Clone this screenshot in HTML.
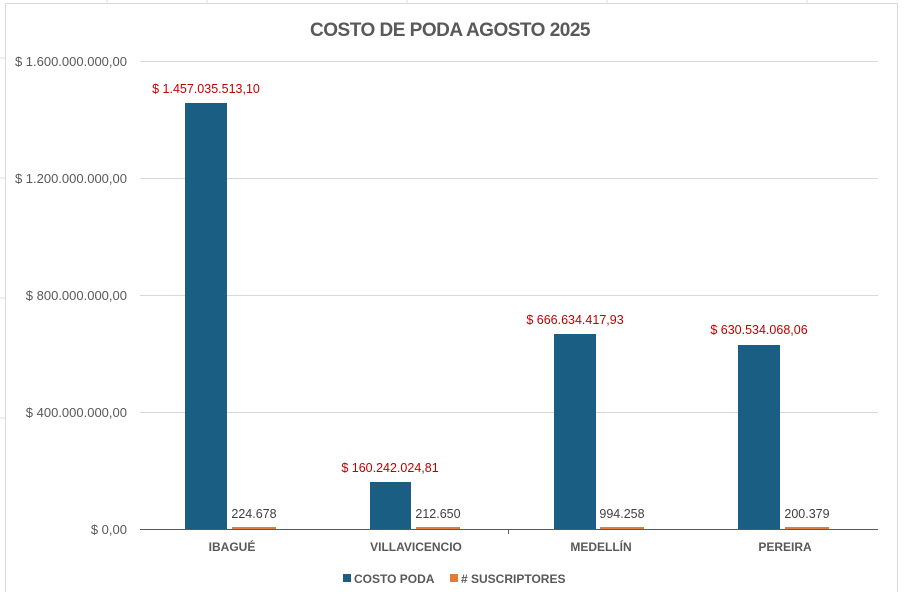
<!DOCTYPE html>
<html><head><meta charset="utf-8"><style>
body{margin:0;width:906px;height:592px;background:#fff;overflow:hidden;font-family:"Liberation Sans",sans-serif}
</style></head><body>
<svg width="906" height="592" xmlns="http://www.w3.org/2000/svg" font-family="Liberation Sans, sans-serif">
<rect x="0" y="0" width="906" height="592" fill="#fff"/>
<g stroke="#e2e2e2" stroke-width="1">
<line x1="107" y1="0" x2="107" y2="4"/><line x1="207" y1="0" x2="207" y2="4"/><line x1="407" y1="0" x2="407" y2="4"/><line x1="607" y1="0" x2="607" y2="4"/><line x1="807" y1="0" x2="807" y2="4"/>
<line x1="0" y1="58" x2="5" y2="58"/><line x1="0" y1="178" x2="5" y2="178"/><line x1="0" y1="298" x2="5" y2="298"/><line x1="0" y1="418" x2="5" y2="418"/>
</g>
<rect x="5.5" y="3.5" width="892" height="600" fill="#fff" stroke="#d9d9d9"/>
<text x="450" y="36" text-anchor="middle" font-size="19" font-weight="bold" fill="#595959" letter-spacing="-0.5">COSTO DE PODA AGOSTO 2025</text>
<g stroke="#d9d9d9" stroke-width="1">
<line x1="140" y1="61.5" x2="878" y2="61.5"/><line x1="140" y1="178.5" x2="878" y2="178.5"/><line x1="140" y1="295.5" x2="878" y2="295.5"/><line x1="140" y1="412.5" x2="878" y2="412.5"/>
</g>
<g font-size="13" fill="#595959" text-anchor="end">
<text x="127" y="66">$ 1.600.000.000,00</text><text x="127" y="183">$ 1.200.000.000,00</text><text x="127" y="300">$ 800.000.000,00</text><text x="127" y="417">$ 400.000.000,00</text><text x="127" y="534">$ 0,00</text>
</g>
<g fill="#1a5e83">
<rect x="185" y="103" width="42" height="426"/><rect x="370" y="482" width="41" height="47"/><rect x="554" y="334" width="42" height="195"/><rect x="738" y="345" width="42" height="184"/>
</g>
<g fill="#e07b39">
<rect x="232" y="527" width="44" height="2"/><rect x="416" y="527" width="44" height="2"/><rect x="600" y="527" width="44" height="2"/><rect x="785" y="527" width="44" height="2"/>
</g>
<line x1="140" y1="529.5" x2="878" y2="529.5" stroke="#595959"/>
<g stroke="#595959"><line x1="508.5" y1="529" x2="508.5" y2="534"/></g>
<g font-size="12.5" fill="#c00000" text-anchor="middle">
<text x="206" y="93">$ 1.457.035.513,10</text><text x="390" y="472">$ 160.242.024,81</text><text x="575" y="324">$ 666.634.417,93</text><text x="759" y="334">$ 630.534.068,06</text>
</g>
<g font-size="12.5" fill="#404040" text-anchor="middle">
<text x="254" y="518">224.678</text><text x="438" y="518">212.650</text><text x="622" y="518">994.258</text><text x="807" y="518">200.379</text>
</g>
<g font-size="12" font-weight="bold" fill="#595959" text-anchor="middle">
<text x="232" y="551">IBAGUÉ</text><text x="416" y="551">VILLAVICENCIO</text><text x="601" y="551">MEDELLÍN</text><text x="785" y="551">PEREIRA</text>
</g>
<rect x="343" y="574" width="8" height="8" fill="#1a5e83"/>
<text x="354" y="583" font-size="12" font-weight="bold" fill="#595959">COSTO PODA</text>
<rect x="450" y="574" width="8" height="8" fill="#e07b39"/>
<text x="461" y="583" font-size="12" font-weight="bold" fill="#595959"># SUSCRIPTORES</text>
</svg>
</body></html>
